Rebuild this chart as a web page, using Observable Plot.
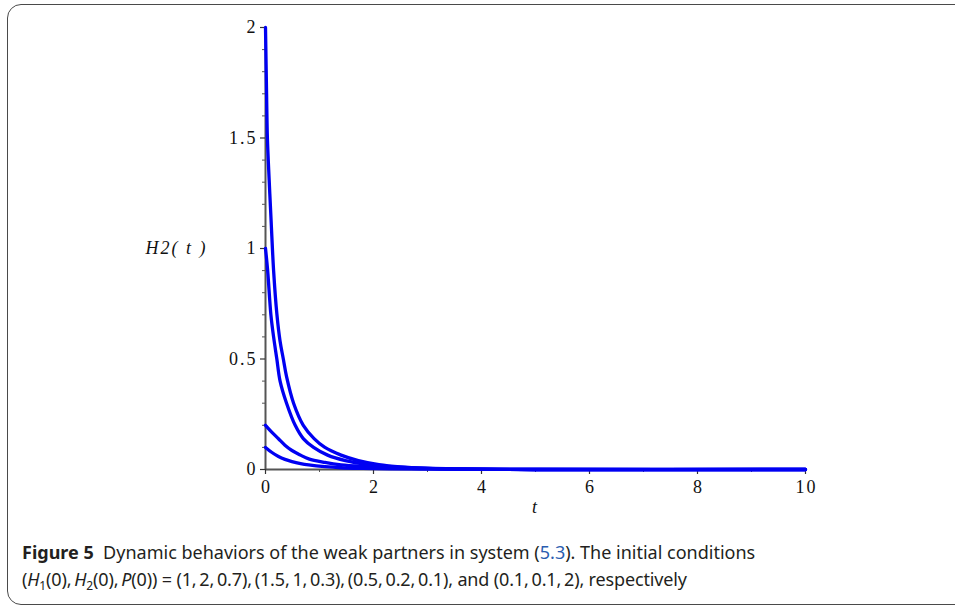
<!DOCTYPE html>
<html>
<head>
<meta charset="utf-8">
<script src="https://cdn.jsdelivr.net/npm/d3@7"></script>
<script src="https://cdn.jsdelivr.net/npm/@observablehq/plot@0.6"></script>
<style>
  html, body { margin: 0; padding: 0; background: #fff; }
  #wrap { position: relative; width: 955px; height: 608px; overflow: hidden; }
  #frame { position: absolute; left: 7px; top: 4px; width: 1000px; height: 601px;
           border: 1.5px solid #4a4a4a; border-radius: 14px; box-sizing: border-box; }
  #chart { position: absolute; left: 0; top: 0; }
  .cap { position: absolute; left: 22px; font-family: "Noto Sans", sans-serif; font-size: 18px;
         color: #231f20; white-space: nowrap; line-height: 22px; }
  .cap b { font-weight: 700; }
  .cap .ref { color: #2a5db0; }
  .cap i { font-style: italic; }
  .cap sub { font-size: 12px; vertical-align: -4px; line-height: 0; }
  #chart svg g[aria-label="text"] text { letter-spacing: 2px; }
</style>
</head>
<body>
<div id="wrap">
  <div id="frame"></div>
  <div id="chart"></div>
  <div class="cap" id="cap1" style="top:541px"><b>Figure 5</b>&nbsp; Dynamic behaviors of the weak partners in system (<span class="ref">5.3</span>). The initial conditions</div>
  <div class="cap" id="cap2" style="top:568px; letter-spacing:-0.15px">(<i>H</i><sub>1</sub>(0),&thinsp;<i>H</i><sub>2</sub>(0),&thinsp;<i>P</i>(0)) = (1,&thinsp;2,&thinsp;0.7),&thinsp;(1.5,&thinsp;1,&thinsp;0.3),&thinsp;(0.5,&thinsp;0.2,&thinsp;0.1), and (0.1,&thinsp;0.1,&thinsp;2), respectively</div>
</div>
<script>
// Curve data (H2(t) vs t)
const t1 = [0, 0.02, 0.035, 0.068, 0.105, 0.15, 0.21, 0.27, 0.33, 0.39, 0.52, 0.70, 0.9, 1.10, 1.4, 1.72, 2.1, 2.5, 3, 3.5, 4, 5, 6, 8, 10];
const v1 = [2, 1.7, 1.5, 1.31, 1.12, 0.9, 0.705, 0.58, 0.5, 0.42, 0.3, 0.2, 0.14, 0.1, 0.065, 0.04, 0.022, 0.012, 0.006, 0.003, 0.0015, 0, 0, 0, 0];
const t2 = [0, 0.04, 0.1, 0.15, 0.21, 0.27, 0.39, 0.55, 0.7, 0.89, 1.15, 1.48, 1.9, 2.4, 3, 3.5, 4, 5, 10];
const v2 = [1, 0.9, 0.7, 0.6, 0.5, 0.4, 0.3, 0.2, 0.14, 0.1, 0.065, 0.04, 0.022, 0.012, 0.005, 0.003, 0.0015, 0, 0];
const t3 = [0, 0.12, 0.24, 0.36, 0.49, 0.65, 0.8, 1.1, 1.4, 1.8, 2.3, 3, 4, 5, 10];
const v3 = [0.2, 0.168, 0.139, 0.11, 0.086, 0.065, 0.048, 0.032, 0.021, 0.014, 0.009, 0.004, 0.0015, 0, 0];
const t4 = [0, 0.12, 0.24, 0.36, 0.49, 0.65, 0.8, 1.1, 1.4, 1.8, 2.3, 3, 4, 5, 10];
const v4 = [0.1, 0.077, 0.059, 0.046, 0.036, 0.027, 0.021, 0.013, 0.008, 0.005, 0.003, 0.0015, 0.0005, 0, 0];

const xTicks = [0, 2, 4, 6, 8, 10];
const xTickLabels = ["0", "2", "4", "6", "8", "10"];
const xMinor = [1, 3, 5, 7, 9];
const yTicks = [0, 0.5, 1, 1.5, 2];
const yTickLabels = ["0", "0.5", "1", "1.5", "2"];
const yMinor = d3.range(0, 21).map(i => i / 10).filter(v => !yTicks.includes(v));

const series = [[t1, v1], [t2, v2], [t3, v3], [t4, v4]].map(([ts, vs], k) =>
  ts.map((t, i) => ({t, v: vs[i], s: k})));
const data = series.flat();

const serif = "'Liberation Serif', 'Times New Roman', serif";
const axisColor = "#555";

const plot = Plot.plot({
  width: 955,
  height: 520,
  marginLeft: 265,
  marginRight: 150,
  marginTop: 27,
  marginBottom: 51,
  x: {domain: [0, 10], axis: null},
  y: {domain: [0, 2], axis: null},
  style: {fontFamily: serif, background: "transparent", color: "#111"},
  marks: [
    // axis lines
    Plot.ruleY([0], {stroke: axisColor, strokeWidth: 2}),
    Plot.ruleX([0], {stroke: axisColor, strokeWidth: 2}),
    // x axis ticks
    Plot.axisX(xTicks, {anchor: "bottom", tickSize: 5, text: null, stroke: "#333", strokeWidth: 1.2, label: null}),
    Plot.axisX(xMinor, {anchor: "bottom", tickSize: 3, text: null, stroke: "#555", label: null}),
    Plot.text(xTicks, {x: d => d, y: () => 0, dy: 18, dx: 1, text: (d, i) => xTickLabels[i], fontSize: 18, fill: "#111", fontFamily: serif}),
    // y axis ticks
    Plot.axisY(yTicks, {anchor: "left", tickSize: 5, text: null, stroke: "#333", strokeWidth: 1.2, label: null}),
    Plot.axisY(yMinor, {anchor: "left", tickSize: 3, text: null, stroke: "#555", label: null}),
    Plot.text(yTicks, {y: d => d, x: () => 0, dx: -8, text: (d, i) => yTickLabels[i], textAnchor: "end", fontSize: 18, fill: "#111", fontFamily: serif}),
    // curves
    Plot.line(data, {x: "t", y: "v", z: "s", stroke: "#0000f2", strokeWidth: 3.3, curve: "catmull-rom"}),
    // axis labels
    Plot.text([{x: 5, y: 0}], {x: "x", y: "y", dy: 38, text: () => "t", fontSize: 18, fontStyle: "italic", fill: "#111", fontFamily: serif}),
    Plot.text([{x: 0, y: 1}], {x: "x", y: "y", dx: -120, text: () => "H2( t )", textAnchor: "start", fontSize: 18, fontStyle: "italic", fill: "#111", fontFamily: serif})
  ]
});
document.getElementById("chart").appendChild(plot);
</script>
</body>
</html>
